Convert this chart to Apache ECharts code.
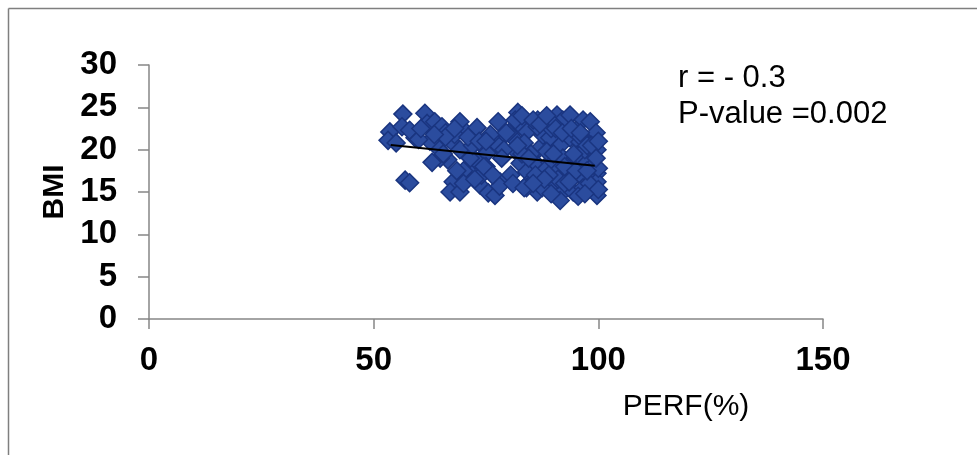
<!DOCTYPE html>
<html>
<head>
<meta charset="utf-8">
<script src="https://cdn.jsdelivr.net/npm/echarts@6/dist/echarts.min.js"></script>
<style>
  html, body { margin: 0; padding: 0; background: #fff; }
  #chart { width: 977px; height: 455px; }
</style>
</head>
<body>
<div id="chart"></div>
<script>
// PERF(%) values
var perf = [
  53.6, 53.2, 56.5, 56.3, 57.0, 58.0, 55.0, 59.2, 58.0, 61.4,
  61.9, 63.6, 65.2, 67.4, 64.3, 69.2, 70.7, 66.5, 67.7, 67.0,
  69.2, 70.7, 72.1, 73.0, 74.1, 75.2, 73.7, 75.5, 78.1, 77.0,
  77.7, 78.6, 77.5, 82.1, 82.6, 81.0, 84.1, 81.9, 82.6, 84.1,
  84.8, 86.4, 85.9, 87.0, 87.7, 86.4, 90.8, 92.1, 93.7, 96.6,
  98.2, 89.2, 91.5, 93.7, 95.9, 98.8, 99.7, 89.2, 92.1, 95.3,
  97.5, 90.8, 93.7, 96.6, 99.7, 90.0, 92.1, 91.5, 94.4, 96.6,
  98.8, 99.7, 99.7, 64.8, 69.2, 72.6, 78.0, 62.5, 65.5, 68.0,
  71.5, 74.0, 76.0, 80.0, 83.5, 85.0, 88.0, 89.5, 91.0, 94.0,
  95.0, 97.0, 99.0, 60.0, 63.0, 66.0, 70.0, 72.0, 75.0, 79.0,
  80.5, 83.0, 86.0, 88.5, 90.0, 92.5, 94.5, 96.0, 98.0, 99.5,
  87.5, 89.0, 93.0, 95.5, 97.5, 100.0, 100.0, 84.0, 86.5, 71.0,
  68.5, 70.0, 72.5, 74.5, 76.5, 66.0, 68.0, 73.5, 76.0, 79.5,
  81.5, 83.0, 85.5, 87.0, 88.5, 90.5, 92.0, 94.0, 96.0, 98.5,
  82.0, 84.5, 86.0, 88.0, 90.0, 92.5, 95.0, 97.5, 99.5, 100.0,
  81.0, 83.5, 85.5, 89.5, 93.5, 97.0, 63.5, 60.5, 75.0, 78.5
];
// BMI values, same order
var bmi = [
  22.1, 21.1, 24.2, 22.7, 16.4, 16.1, 20.8, 21.4, 22.3, 24.3,
  23.1, 23.3, 22.7, 20.9, 20.2, 23.3, 22.0, 18.8, 16.2, 15.0,
  15.0, 16.7, 18.2, 22.6, 20.5, 19.6, 15.8, 14.9, 16.2, 14.6,
  23.3, 21.4, 20.6, 24.4, 22.9, 21.4, 22.1, 19.7, 18.4, 17.4,
  16.2, 15.0, 18.5, 20.2, 21.7, 22.7, 24.1, 23.5, 24.1, 23.5,
  23.3, 21.4, 20.5, 21.4, 20.9, 21.4, 20.0, 18.5, 19.0, 19.4,
  18.5, 17.4, 17.0, 16.7, 17.2, 15.8, 15.0, 14.0, 15.0, 15.5,
  15.5, 14.6, 16.2, 19.0, 20.0, 18.8, 15.7, 21.0, 19.5, 21.8,
  19.0, 17.0, 21.5, 22.0, 20.8, 19.5, 17.5, 22.5, 16.5, 18.0,
  22.3, 20.0, 18.2, 21.2, 18.5, 22.0, 17.5, 20.5, 18.0, 20.0,
  17.0, 19.5, 16.5, 19.8, 23.0, 16.0, 19.5, 21.5, 16.0, 22.0,
  15.5, 17.0, 18.0, 14.5, 20.5, 15.3, 17.8, 15.5, 23.5, 21.5,
  17.5, 16.0, 16.5, 18.0, 17.0, 21.5, 22.5, 21.0, 21.8, 22.0,
  23.5, 24.0, 23.5, 23.0, 24.0, 22.5, 22.0, 22.5, 22.0, 20.5,
  20.5, 19.0, 17.0, 16.5, 19.5, 18.0, 17.5, 17.5, 19.0, 21.0,
  16.0, 15.5, 16.0, 14.8, 16.2, 14.8, 21.8, 22.5, 21.0, 19.0
];
// linear trend line end points
var trendX = [53.8, 99.2];
var trendY = [20.55, 18.1];

var points = perf.map(function (x, i) { return [x, bmi[i]]; });
var trend = trendX.map(function (x, i) { return [x, trendY[i]]; });

var chart = echarts.init(document.getElementById('chart'));
chart.setOption({
  animation: false,
  grid: { left: 149, right: 154, top: 65, bottom: 136 },
  xAxis: {
    type: 'value',
    min: 0, max: 150, interval: 50,
    name: 'PERF(%)',
    nameLocation: 'middle',
    nameGap: 73,
    nameTextStyle: { color: '#000', fontSize: 30, fontFamily: 'Liberation Sans', padding: [0, 0, 0, 400] },
    axisLine: { lineStyle: { color: '#868686', width: 1.5 } },
    axisTick: { show: true, length: 10, lineStyle: { color: '#868686', width: 1.5 } },
    axisLabel: { color: '#000', fontSize: 33, fontWeight: 'bold', fontFamily: 'Liberation Sans', margin: 25 },
    splitLine: { show: false }
  },
  yAxis: {
    type: 'value',
    min: 0, max: 30, interval: 5,
    name: 'BMI',
    nameLocation: 'middle',
    nameRotate: 90,
    nameGap: 74,
    nameTextStyle: { color: '#000', fontSize: 30, fontWeight: 'bold', fontFamily: 'Liberation Sans' },
    axisLine: { show: true, lineStyle: { color: '#868686', width: 1.5 } },
    axisTick: { show: true, length: 11, lineStyle: { color: '#868686', width: 1.5 } },
    axisLabel: { color: '#000', fontSize: 33, fontWeight: 'bold', fontFamily: 'Liberation Sans', margin: 32 },
    splitLine: { show: false }
  },
  graphic: [
    { type: 'line', shape: { x1: 8.5, y1: 8.5, x2: 977, y2: 8.5 }, style: { stroke: '#7f7f7f', lineWidth: 1.5 } },
    { type: 'line', shape: { x1: 8.5, y1: 8.5, x2: 8.5, y2: 455 }, style: { stroke: '#7f7f7f', lineWidth: 1.5 } },
    {
      type: 'text', left: 678, top: 60,
      style: { text: 'r = - 0.3\nP-value =0.002', fill: '#000', font: '31px "Liberation Sans"', lineHeight: 36 }
    }
  ],
  series: [
    {
      type: 'scatter',
      data: points,
      symbol: 'diamond',
      symbolSize: [18, 18],
      itemStyle: { color: '#2B4C9E', borderColor: '#1A3580', borderWidth: 1.5, opacity: 1 }
    },
    {
      type: 'line',
      data: trend,
      symbol: 'none',
      z: 3,
      lineStyle: { color: '#000', width: 2 }
    }
  ]
});
</script>
</body>
</html>
